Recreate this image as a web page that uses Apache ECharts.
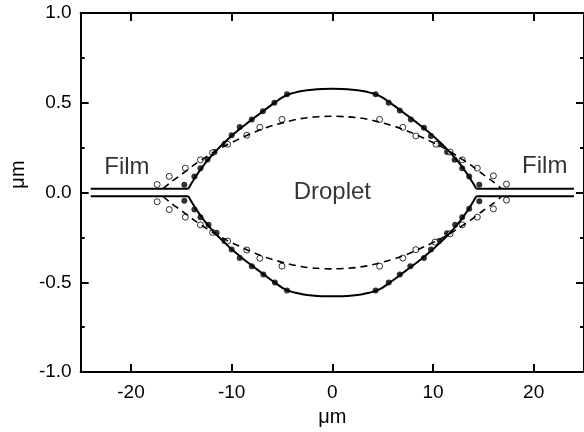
<!DOCTYPE html>
<html>
<head>
<meta charset="utf-8">
<script src="https://cdn.jsdelivr.net/npm/echarts@6/dist/echarts.min.js"></script>
<style>
  html, body { margin: 0; padding: 0; background: #fff; }
  #chart { width: 584px; height: 432px; }
</style>
</head>
<body>
<div id="chart"></div>
<script>
// film (flat thin layer on both sides)
const filmLeftX = [-24, -14.3]
const filmRightX = [14.3, 24]
const filmTopY = [0.021, 0.021]
const filmBottomY = [-0.021, -0.021]

// solid profile (upper and lower)
const solidX = [-14.3, -14, -13.5, -13, -12.5, -12, -11.5, -11, -10.5, -10, -9.5, -9, -8.5, -8, -7.5, -7, -6.5, -6,
  -5.5, -5, -4.5, -4, -3.5, -3, -2, -1, 0,
  1, 2, 3, 3.5, 4, 4.5, 5, 5.5, 6, 6.5, 7, 7.5, 8, 8.5, 9, 9.5, 10, 10.5, 11, 11.5, 12, 12.5, 13, 13.5, 14, 14.3]
const solidUpperY = [0.021, 0.05, 0.095, 0.135, 0.172, 0.205, 0.235, 0.263, 0.29, 0.316, 0.34, 0.363, 0.385, 0.406, 0.427, 0.448, 0.469, 0.49,
  0.51, 0.529, 0.543, 0.553, 0.56, 0.566, 0.573, 0.577, 0.578,
  0.577, 0.573, 0.566, 0.56, 0.553, 0.543, 0.529, 0.51, 0.49, 0.469, 0.448, 0.427, 0.406, 0.385, 0.363, 0.34, 0.316, 0.29, 0.263, 0.235, 0.205, 0.172, 0.135, 0.095, 0.05, 0.021]
const solidLowerY = [-0.021, -0.05, -0.095, -0.135, -0.172, -0.205, -0.235, -0.263, -0.29, -0.316, -0.34, -0.363, -0.385, -0.406, -0.427, -0.448, -0.469, -0.49,
  -0.51, -0.529, -0.543, -0.553, -0.56, -0.566, -0.573, -0.577, -0.578,
  -0.577, -0.573, -0.566, -0.56, -0.553, -0.543, -0.529, -0.51, -0.49, -0.469, -0.448, -0.427, -0.406, -0.385, -0.363, -0.34, -0.316, -0.29, -0.263, -0.235, -0.205, -0.172, -0.135, -0.095, -0.05, -0.021]

// dashed profile (upper and lower)
const dashX = [-16.8, -16.0, -15.0, -13.7, -12.5, -11.5, -10.5, -9.5, -8.5, -7.5, -6.5, -5.5, -4.5, -3.5, -2.5, -1.5, 0,
  1.5, 2.5, 3.5, 4.5, 5.5, 6.5, 7.5, 8.5, 9.5, 10.5, 11.5, 12.5, 13.7, 15.0, 16.0, 16.8]
const dashUpperY = [0.022, 0.06, 0.1, 0.155, 0.2, 0.235, 0.265, 0.292, 0.318, 0.342, 0.363, 0.38, 0.395, 0.408, 0.417, 0.422, 0.425,
  0.422, 0.417, 0.408, 0.395, 0.38, 0.363, 0.342, 0.318, 0.292, 0.265, 0.235, 0.2, 0.155, 0.1, 0.06, 0.022]
const dashLowerY = [-0.022, -0.06, -0.1, -0.155, -0.2, -0.235, -0.265, -0.292, -0.318, -0.342, -0.363, -0.38, -0.395, -0.408, -0.417, -0.422, -0.425,
  -0.422, -0.417, -0.408, -0.395, -0.38, -0.363, -0.342, -0.318, -0.292, -0.265, -0.235, -0.2, -0.155, -0.1, -0.06, -0.022]

// filled dots
const filledUpperX = [-14.7, -13.7, -13.1, -12.4, -11.7, -10.7, -10.0, -9.2, -8.0, -6.9, -5.75, -4.5,
  4.3, 5.6, 6.7, 7.8, 9.1, 9.8, 10.6, 11.4, 12.15, 12.9, 13.6, 14.6]
const filledUpperY = [0.043, 0.09, 0.136, 0.184, 0.226, 0.272, 0.319, 0.365, 0.407, 0.453, 0.5, 0.547,
  0.547, 0.5, 0.457, 0.407, 0.361, 0.315, 0.269, 0.226, 0.182, 0.136, 0.09, 0.043]
const filledLowerX = [-14.7, -13.7, -13.1, -12.3, -11.5, -10.7, -10.0, -9.2, -8.0, -6.85, -5.7, -4.5,
  4.3, 5.6, 6.7, 7.75, 9.1, 9.8, 10.6, 11.4, 12.2, 12.9, 13.6, 14.6]
const filledLowerY = [-0.045, -0.095, -0.137, -0.18, -0.224, -0.27, -0.317, -0.365, -0.41, -0.457, -0.501, -0.546,
  -0.546, -0.501, -0.457, -0.41, -0.365, -0.317, -0.27, -0.226, -0.18, -0.137, -0.09, -0.049]

// open circles
const openUpperX = [-17.4, -16.2, -14.6, -13.1, -11.9, -10.4, -8.5, -7.2, -5.0,
  4.7, 7.0, 8.3, 10.3, 11.7, 12.9, 14.4, 16.0, 17.3]
const openUpperY = [0.045, 0.09, 0.136, 0.182, 0.222, 0.269, 0.319, 0.363, 0.407,
  0.407, 0.363, 0.315, 0.269, 0.226, 0.182, 0.136, 0.093, 0.047]
const openLowerX = [-17.4, -16.2, -14.6, -13.1, -11.9, -10.4, -8.5, -7.2, -5.0,
  4.7, 7.0, 8.3, 10.2, 11.7, 12.9, 14.4, 16.0, 17.3]
const openLowerY = [-0.051, -0.095, -0.137, -0.18, -0.222, -0.27, -0.32, -0.366, -0.41,
  -0.41, -0.365, -0.318, -0.276, -0.23, -0.18, -0.137, -0.091, -0.042]

// text annotations
const notes = [
  { name: 'Droplet', value: [0, 0] },
  { name: 'Film', value: [-20.4, 0.141] },
  { name: 'Film', value: [21.1, 0.147] }
]

// axis ticks
const xMajor = [-20, -10, 0, 10, 20]

const FONT = 'Liberation Sans, Arial, Helvetica, sans-serif'
const zip = (xs, ys) => xs.map((x, i) => [x, ys[i]])

const chart = echarts.init(document.getElementById('chart'))

const frameLine = { show: true, onZero: false, lineStyle: { color: '#000', width: 2 } }
const tick = { show: true, inside: true, length: 8, lineStyle: { color: '#000', width: 2 } }

const lineSeries = (data, dashed, smooth) => ({
  type: 'line', data, smooth, showSymbol: false, symbol: 'none',
  lineStyle: dashed
    ? { color: '#000', width: 1.6, type: [7, 5] }
    : { color: '#000', width: 2 }
})
const dotSeries = (data, open) => ({
  type: 'scatter', data, symbol: 'circle', symbolSize: 6,
  itemStyle: open
    ? { color: '#fff', borderColor: '#000', borderWidth: 1 }
    : { color: '#000' }
})

chart.setOption({
  grid: { left: 73, top: 13, right: -1, bottom: 58 },
  xAxis: [
    {
      type: 'value', min: -25, max: 25, position: 'bottom',
      axisLine: frameLine,
      axisTick: Object.assign({}, tick, { customValues: xMajor }),
      axisLabel: { customValues: xMajor, fontSize: 19, color: '#000', margin: 11, fontFamily: FONT },
      splitLine: { show: false },
      name: 'μm', nameLocation: 'middle', nameGap: 30,
      nameTextStyle: { fontSize: 20, color: '#000', fontFamily: FONT }
    },
    {
      type: 'value', min: -25, max: 25, position: 'top',
      axisLine: frameLine,
      axisTick: Object.assign({}, tick, { customValues: xMajor }),
      axisLabel: { show: false },
      splitLine: { show: false }
    }
  ],
  yAxis: [
    {
      type: 'value', min: -1, max: 1, interval: 0.5, position: 'left',
      axisLine: frameLine,
      axisTick: tick,
      minorTick: { show: true, splitNumber: 2, length: 4, lineStyle: { color: '#000', width: 2 } },
      axisLabel: { fontSize: 19, color: '#000', margin: 9, fontFamily: FONT, formatter: v => v.toFixed(1) },
      splitLine: { show: false },
      name: 'μm', nameLocation: 'middle', nameGap: 46,
      nameTextStyle: { fontSize: 20, color: '#000', fontFamily: FONT, padding: [0, 0, 0, 36] }
    },
    {
      type: 'value', min: -1, max: 1, interval: 0.5, position: 'right',
      axisLine: frameLine,
      axisTick: tick,
      minorTick: { show: true, splitNumber: 2, length: 4, lineStyle: { color: '#000', width: 2 } },
      axisLabel: { show: false },
      splitLine: { show: false }
    }
  ],
  series: [
    lineSeries(zip(filmLeftX, filmTopY), false, false),
    lineSeries(zip(filmLeftX, filmBottomY), false, false),
    lineSeries(zip(filmRightX, filmTopY), false, false),
    lineSeries(zip(filmRightX, filmBottomY), false, false),
    lineSeries(zip(solidX, solidUpperY), false, 0.3),
    lineSeries(zip(solidX, solidLowerY), false, 0.3),
    lineSeries(zip(dashX, dashUpperY), true, 0.3),
    lineSeries(zip(dashX, dashLowerY), true, 0.3),
    dotSeries(zip(filledUpperX, filledUpperY), false),
    dotSeries(zip(filledLowerX, filledLowerY), false),
    dotSeries(zip(openUpperX, openUpperY), true),
    dotSeries(zip(openLowerX, openLowerY), true),
    {
      type: 'scatter', data: notes, symbolSize: 0, silent: true,
      label: { show: true, position: 'inside', formatter: p => p.name,
        fontSize: 24, color: '#000', fontFamily: FONT }
    }
  ]
})
</script>
</body>
</html>
